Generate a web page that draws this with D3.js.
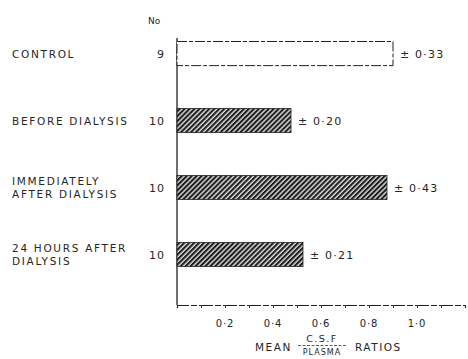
<!DOCTYPE html>
<html>
<head>
<meta charset="utf-8">
<script src="https://cdn.jsdelivr.net/npm/d3@7"></script>
<style>
  body { margin: 0; background: #fff; }
  svg text { font-family: "DejaVu Sans", sans-serif; fill: #262626; }
</style>
</head>
<body>
<div id="canvas"></div>
<script>
// data
let groups = [["CONTROL"], ["BEFORE DIALYSIS"], ["IMMEDIATELY", "AFTER DIALYSIS"], ["24 HOURS AFTER", "DIALYSIS"]];
let counts = [9, 10, 10, 10];
let means = [0.90, 0.475, 0.875, 0.525];
let errLabels = ["± 0·33", "± 0·20", "± 0·43", "± 0·21"];
let hatched = [false, true, true, true];
let tickVals = [0.2, 0.4, 0.6, 0.8, 1.0];
let tickText = ["0·2", "0·4", "0·6", "0·8", "1·0"];

let drawing = d3.select("#canvas")
    .append("svg")
    .attr("width", 468)
    .attr("height", 359);

// hatch pattern for the dialysis bars
let defs = drawing.append("defs");
let pat = defs.append("pattern")
    .attr("id", "hatch")
    .attr("patternUnits", "userSpaceOnUse")
    .attr("width", 3.5)
    .attr("height", 3.5)
    .attr("patternTransform", "rotate(45)");
pat.append("rect").attr("width", 3.5).attr("height", 3.5).attr("fill", "#e0e0e0");
pat.append("rect").attr("width", 2.1).attr("height", 3.5).attr("fill", "#1e1e1e");

let x = d3.scaleLinear().domain([0, 1.2]).range([177, 465]);
let y = d3.scaleBand().domain(d3.range(groups.length)).range([21.4, 286.7]).paddingInner(0.64).paddingOuter(0.3);

// vertical axis line
drawing.append("line")
    .attr("x1", x(0)).attr("x2", x(0))
    .attr("y1", 38).attr("y2", 305)
    .attr("stroke", "#222").attr("stroke-width", 1.3);

// bottom axis
let xAxis = d3.axisBottom(x)
    .tickValues(d3.range(1, 13).map(d => d / 10))
    .tickSize(3)
    .tickFormat("");
let ax = drawing.append("g")
    .attr("transform", "translate(0,305)")
    .call(xAxis);
ax.select(".domain").attr("stroke", "#222").attr("stroke-width", 1.2).attr("stroke-dasharray", "14,2,6,2");
ax.selectAll(".tick line").attr("stroke", "#333");

drawing.selectAll(".tlab")
    .data(tickVals)
    .enter().append("text")
    .attr("class", "tlab")
    .attr("x", d => x(d))
    .attr("y", 327)
    .attr("text-anchor", "middle")
    .attr("font-size", 10)
    .attr("letter-spacing", 0.8)
    .text((d, i) => tickText[i]);

// bars
drawing.selectAll(".bar")
    .data(means)
    .enter().append("rect")
    .attr("class", "bar")
    .attr("x", x(0))
    .attr("y", (d, i) => y(i))
    .attr("width", d => x(d) - x(0))
    .attr("height", y.bandwidth())
    .attr("fill", (d, i) => hatched[i] ? "url(#hatch)" : "#fff")
    .attr("stroke", "#222")
    .attr("stroke-width", (d, i) => hatched[i] ? 0.8 : 1)
    .attr("stroke-dasharray", (d, i) => hatched[i] ? null : "10,2,4,2");

// error labels
drawing.selectAll(".err")
    .data(means)
    .enter().append("text")
    .attr("class", "err")
    .attr("x", d => x(d) + 7)
    .attr("y", (d, i) => y(i) + y.bandwidth() / 2 + 4)
    .attr("font-size", 11)
    .attr("letter-spacing", 1.2)
    .text((d, i) => errLabels[i]);

// counts
drawing.append("text")
    .attr("x", 148).attr("y", 24)
    .attr("font-size", 9)
    .text("No");
drawing.selectAll(".cnt")
    .data(counts)
    .enter().append("text")
    .attr("class", "cnt")
    .attr("x", 165)
    .attr("y", (d, i) => y(i) + y.bandwidth() / 2 + 4)
    .attr("text-anchor", "end")
    .attr("font-size", 11)
    .attr("letter-spacing", 1)
    .text(d => d);

// group labels
groups.forEach(function (lines, i) {
    let cy = y(i) + y.bandwidth() / 2;
    let first = cy - (lines.length - 1) * 6.5 + 4;
    lines.forEach(function (ln, j) {
        drawing.append("text")
            .attr("x", 12)
            .attr("y", first + j * 13)
            .attr("font-size", 10.5)
            .attr("letter-spacing", 1.7)
            .text(ln);
    });
});

// axis title with fraction
drawing.append("text")
    .attr("x", 255).attr("y", 351)
    .attr("font-size", 10.5)
    .attr("letter-spacing", 1.5)
    .text("MEAN");
drawing.append("text")
    .attr("x", 322).attr("y", 342)
    .attr("text-anchor", "middle")
    .attr("font-size", 9.5)
    .attr("letter-spacing", 1.5)
    .text("C.S.F");
drawing.append("line")
    .attr("x1", 298).attr("x2", 347)
    .attr("y1", 345.5).attr("y2", 345.5)
    .attr("stroke", "#333").attr("stroke-width", 0.8)
    .attr("stroke-dasharray", "3,1.5");
drawing.append("text")
    .attr("x", 322).attr("y", 355)
    .attr("text-anchor", "middle")
    .attr("font-size", 8)
    .attr("letter-spacing", 1)
    .text("PLASMA");
drawing.append("text")
    .attr("x", 355).attr("y", 351)
    .attr("font-size", 10.5)
    .attr("letter-spacing", 1.5)
    .text("RATIOS");
</script>
</body>
</html>
